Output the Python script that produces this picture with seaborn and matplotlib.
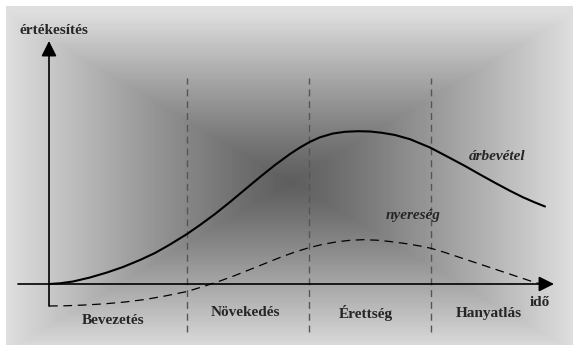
import numpy as np
import pandas as pd
import matplotlib
matplotlib.use("Agg")
import matplotlib.pyplot as plt
import seaborn as sns

# Product life cycle: time on x, sales / profit on y (arbitrary units)
revenue_t = [0, 11, 24, 41, 58, 74, 91, 106, 121, 138, 151, 166, 181, 196,
             211, 226, 241, 251, 261, 271, 284, 296, 309, 321, 333, 346,
             361, 381, 401, 416, 431, 446, 461, 474, 486, 496]
revenue_v = [0, 0.7, 2.5, 6.5, 11.5, 17, 24, 31, 39.5, 50, 59, 70, 82, 94.5,
             107, 119, 130, 136.5, 142.2, 146.7, 150.5, 152.2, 152.8, 152.5,
             151.2, 149, 144.8, 136.5, 126, 118, 109.5, 101.2, 93.2, 86.7,
             81.5, 77.5]

profit_t = [0, 16, 36, 56, 76, 96, 116, 138, 156, 171, 186, 201, 216, 231,
            246, 259, 273, 288, 301, 314, 328, 341, 356, 371, 382, 396, 411,
            426, 441, 456, 471, 483, 493]
profit_v = [-22, -21.8, -21, -19.8, -18, -15.5, -12, -7.5, -2, 3, 8.5, 14.5,
            20.5, 26.5, 32, 36, 39.5, 42.2, 43.7, 44.3, 43.8, 42.5, 40.5, 38,
            35.7, 31.5, 26.5, 21.5, 16.5, 11.5, 6.5, 2.5, -0.5]

phase_bounds = [138, 260, 382]
phase_names = ["Bevezetés", "Növekedés", "Érettség", "Hanyatlás"]
phase_centers = [64, 196, 317, 440]

y_label = "értékesítés"
x_label = "idő"
revenue_label = "árbevétel"
profit_label = "nyereség"

sns.set_style("white")
plt.rcParams["font.family"] = ["Liberation Serif", "DejaVu Serif"]

fig = plt.figure(figsize=(5.76, 3.46), dpi=100, facecolor="white")
ax = fig.add_axes([0, 0, 1, 1])

# rectangular "from centre" shading behind the diagram
gx0, gx1, gy0, gy1 = -43, 524, -61, 278
nx, ny = 567, 339
xs = np.linspace(gx0, gx1, nx)
ys = np.linspace(gy1, gy0, ny)
X, Y = np.meshgrid(xs, ys)
cx, cy = 241, 102
hx, hy = (gx1 - gx0) / 2, (gy1 - gy0) / 2
t = np.maximum(np.abs(X - cx) / hx, np.abs(Y - cy) / hy)
t = np.clip(t, 0, 1)
shade = 94 + 128 * t ** 1.15
ax.imshow(shade, cmap="gray", vmin=0, vmax=255, extent=(gx0, gx1, gy0, gy1),
          aspect="auto", interpolation="bilinear", zorder=0)

# phase boundaries
for b in phase_bounds:
    ax.plot([b, b], [-48, 206], color="#555555", lw=1.0,
            linestyle=(0, (5, 3.5)), zorder=2)

# curves
rev = pd.DataFrame({"t": revenue_t, "v": revenue_v})
prof = pd.DataFrame({"t": profit_t, "v": profit_v})
sns.lineplot(data=rev, x="t", y="v", ax=ax, color="black", lw=1.5,
             sort=False, estimator=None, zorder=4)
sns.lineplot(data=prof, x="t", y="v", ax=ax, color="black", lw=0.9,
             sort=False, estimator=None, zorder=4)
ax.lines[-1].set_linestyle((0, (7, 4.5)))
for ln in ax.lines[-2:]:
    ln.set_solid_joinstyle("round")
    ln.set_dash_joinstyle("round")
ax.set_xlim(-49, 527)
ax.set_ylim(-62, 284)
ax.axis("off")

# axes with arrow heads
arrow = dict(arrowstyle="-|>,head_length=0.4,head_width=0.2", lw=1.2,
             color="black", mutation_scale=23, shrinkA=0, shrinkB=0)
ax.annotate("", xy=(0, 243), xytext=(0, -22), arrowprops=arrow, zorder=5)
ax.annotate("", xy=(505, 0), xytext=(-31, 0), arrowprops=arrow, zorder=5)

ax.text(5, 254, y_label, ha="center", va="center", fontsize=11,
        fontweight="bold", zorder=6)
ax.text(491, -18, x_label, ha="center", va="center", fontsize=11,
        fontweight="bold", zorder=6)
ax.text(448, 127, revenue_label, ha="center", va="center", fontsize=11,
        fontweight="bold", fontstyle="italic", zorder=6)
ax.text(364, 68, profit_label, ha="center", va="center", fontsize=11,
        fontweight="bold", fontstyle="italic", zorder=6)

for name, c in zip(phase_names, phase_centers):
    yy = -36 if name == "Bevezetés" else -29
    ax.text(c, yy, name, ha="center", va="center", fontsize=11,
            fontweight="bold", zorder=6)

fig.savefig("out.png", dpi=100, facecolor="white")
